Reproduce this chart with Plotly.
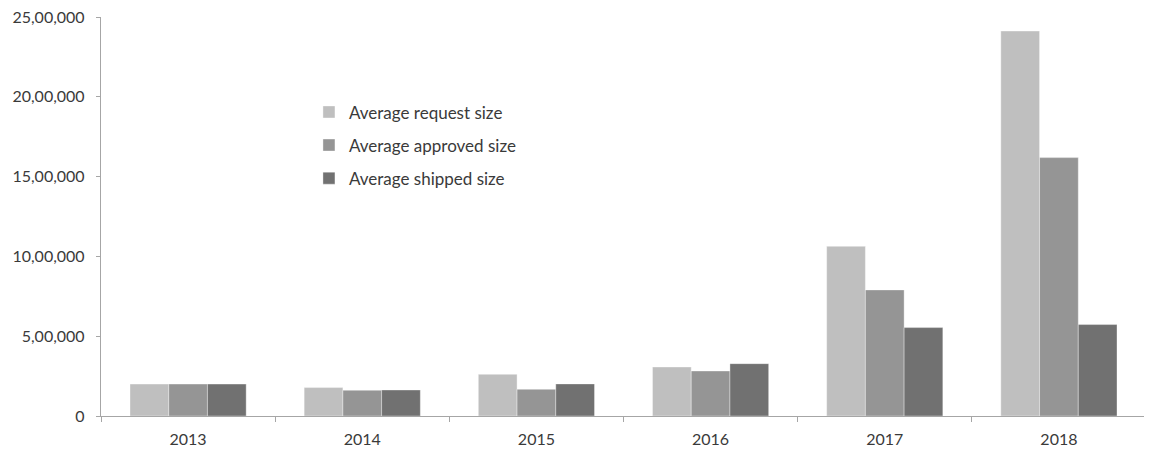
import plotly.graph_objects as go

years = ["2013", "2014", "2015", "2016", "2017", "2018"]
request_size = [200000, 178000, 261000, 307000, 1063000, 2412000]
approved_size = [200000, 161000, 167000, 282000, 790000, 1619000]
shipped_size = [200000, 163000, 201000, 328000, 554000, 573000]
series_names = ["Average request size", "Average approved size", "Average shipped size"]
y_tick_vals = [0, 500000, 1000000, 1500000, 2000000, 2500000]
y_tick_text = ["0", "5,00,000", "10,00,000", "15,00,000", "20,00,000", "25,00,000"]

colors = ["#BFBFBF", "#959595", "#717171"]
font_family = "Lato, 'Open Sans', sans-serif"
text_color = "#3A3A3A"

fig = go.Figure()
for i, (name, vals) in enumerate(zip(series_names, [request_size, approved_size, shipped_size])):
    fig.add_trace(go.Bar(
        x=years, y=vals, name=name, legendgroup=f"g{i}",
        marker=dict(color=colors[i], line=dict(width=0.6, color="rgba(255,255,255,0.6)")),
    ))

fig.update_layout(
    width=1152, height=456,
    margin=dict(l=93, r=14, t=8.5, b=48, autoexpand=False),
    paper_bgcolor="white", plot_bgcolor="white",
    barmode="group", bargap=0.333, bargroupgap=0,
    font=dict(family=font_family, size=15, color=text_color),
    showlegend=True,
    legend=dict(
        x=0.199, y=0.806, xanchor="left", yanchor="top",
        bgcolor="rgba(0,0,0,0)", font=dict(size=17, color=text_color),
        traceorder="grouped", tracegroupgap=8, itemwidth=30,
    ),
)
fig.update_xaxes(
    showline=True, linecolor="#A6A6A6", linewidth=1.3,
    ticks="outside", tickson="boundaries", ticklen=5, tickcolor="#A6A6A6",
    showgrid=False, tickfont=dict(size=16, color=text_color),
    ticklabelstandoff=9,
)
fig.update_yaxes(
    range=[0, 2500000], tickvals=y_tick_vals, ticktext=y_tick_text,
    showline=True, linecolor="#A6A6A6", linewidth=1.3,
    ticks="outside", ticklen=4, tickcolor="#A6A6A6",
    showgrid=False, zeroline=False, tickfont=dict(size=16, color=text_color),
    ticklabelstandoff=8, ticklabeloverflow="allow",
)

fig.write_html("out.html")
